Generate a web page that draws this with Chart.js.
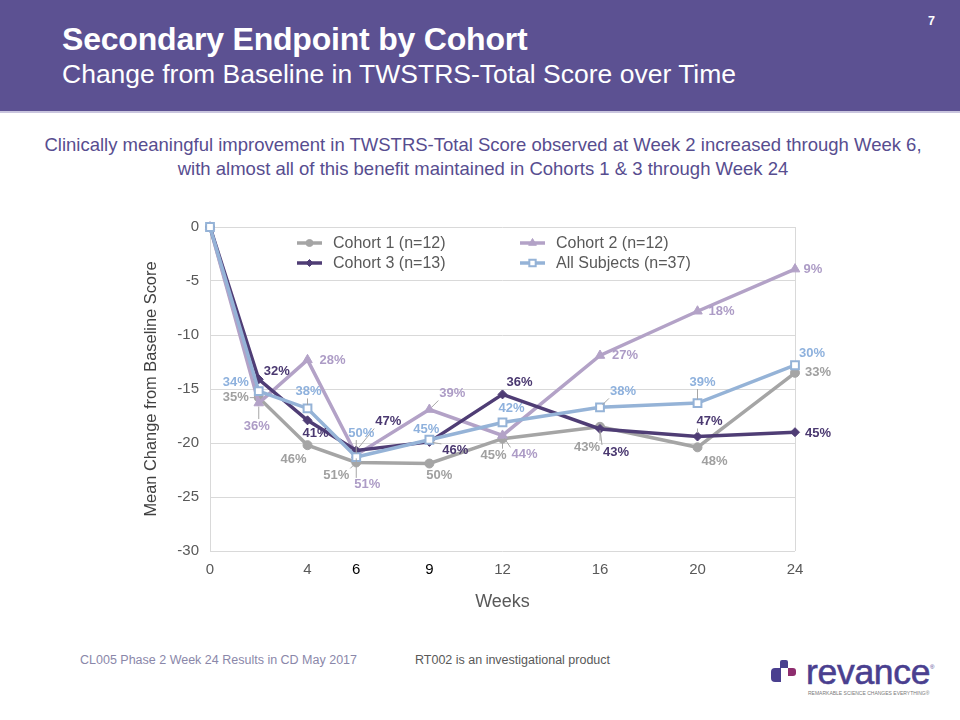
<!DOCTYPE html>
<html>
<head>
<meta charset="utf-8">
<script src="https://cdn.jsdelivr.net/npm/chart.js@4.4.0/dist/chart.umd.min.js"></script>
<style>
  html,body{margin:0;padding:0;}
  body{width:960px;height:720px;position:relative;background:#fff;font-family:"Liberation Sans",Arial,sans-serif;overflow:hidden;}
  #hdr{position:absolute;left:0;top:0;width:960px;height:111px;background:#5c5192;border-bottom:2px solid #c9c5de;}
  #t1{position:absolute;left:62px;top:21px;font-size:32px;font-weight:bold;color:#fff;white-space:nowrap;letter-spacing:-0.2px;}
  #t2{position:absolute;left:62px;top:59px;font-size:26.5px;color:#fff;white-space:nowrap;}
  #pg{position:absolute;left:928px;top:14px;font-size:12.5px;font-weight:bold;color:#fff;}
  #desc{position:absolute;left:0;top:133px;width:966px;text-align:center;font-size:18.5px;line-height:24px;color:#574d8f;}
  #chart{position:absolute;left:0;top:190px;}
  #f1{position:absolute;left:80px;top:653px;font-size:12.5px;color:#8a87a9;white-space:nowrap;}
  #f2{position:absolute;left:415px;top:653px;font-size:12.5px;color:#595959;white-space:nowrap;}
  .lg{position:absolute;}
  #lg1{left:780px;top:660px;width:8px;height:8px;background:#4a3f8f;border-radius:2px 2px 0 0;}
  #lg2{left:771px;top:668px;width:10px;height:14px;background:#4a3f8f;border-radius:4px 0 0 4px;}
  #lg3{left:788px;top:668px;width:8px;height:8px;background:#8e2d6e;border-radius:0 3px 3px 0;}
  #logo{position:absolute;left:806px;top:652px;font-size:35.5px;color:#4a3f8f;letter-spacing:-0.3px;white-space:nowrap;-webkit-text-stroke:0.6px #4a3f8f;}
  #reg{position:absolute;left:930px;top:664px;font-size:6px;color:#4a3f8f;}
  #tag{position:absolute;left:808px;top:690px;font-size:5px;color:#7a7a7a;white-space:nowrap;}
</style>
</head>
<body>
<div id="hdr">
  <div id="t1">Secondary Endpoint by Cohort</div>
  <div id="t2">Change from Baseline in TWSTRS-Total Score over Time</div>
  <div id="pg">7</div>
</div>
<div id="desc">Clinically meaningful improvement in TWSTRS-Total Score observed at Week 2 increased through Week 6,<br>with almost all of this benefit maintained in Cohorts 1 &amp; 3 through Week 24</div>
<canvas id="chart" width="960" height="440"></canvas>
<div id="f1">CL005 Phase 2 Week 24 Results in CD May 2017</div>
<div id="f2">RT002 is an investigational product</div>
<div class="lg" id="lg1"></div><div class="lg" id="lg2"></div><div class="lg" id="lg3"></div>
<div id="logo">revance</div>
<div id="reg">®</div>
<div id="tag">REMARKABLE SCIENCE CHANGES EVERYTHING®</div>
<script>
// ---------------- data ----------------
const weeks = [0, 2, 4, 6, 9, 12, 16, 20, 24];
const xTickValues = [0, 4, 6, 9, 12, 16, 20, 24];
const highlightedTicks = [6, 9];
const seriesNames = ['Cohort 1 (n=12)', 'Cohort 2 (n=12)', 'Cohort 3 (n=13)', 'All Subjects (n=37)'];
const cohort1 = [0, -15.8, -20.2, -21.8, -21.9, -19.6, -18.5, -20.4, -13.5];
const cohort2 = [0, -16.3, -12.3, -21.1, -16.9, -19.3, -11.9, -7.8, -3.9];
const cohort3 = [0, -14.1, -17.9, -20.7, -19.9, -15.5, -18.7, -19.4, -19.0];
const allSubjects = [0, -15.2, -16.8, -21.3, -19.7, -18.1, -16.7, -16.3, -12.8];
const cohort1Pct = ['', '35%', '46%', '51%', '50%', '45%', '43%', '48%', '33%'];
const cohort2Pct = ['', '36%', '28%', '51%', '39%', '44%', '27%', '18%', '9%'];
const cohort3Pct = ['', '32%', '41%', '47%', '46%', '36%', '43%', '47%', '45%'];
const allSubjectsPct = ['', '34%', '38%', '50%', '45%', '42%', '38%', '39%', '30%'];

// ---------------- styling (label offsets in px relative to point, [dx, dy, leader]) ----------------
const labelOffsets = {
  c1: [null, [-23, 0, 1], [-14, 14, 0], [-20, 13, 1], [10, 12, 0], [-9, 17, 1], [-13, 21, 1], [17, 14, 0], [23, 0, 0]],
  c2: [null, [-2, 23, 1], [25, 1, 0], [11, 30, 1], [23, -16, 1], [22, 19, 1], [25, 0, 0], [24, 0, 0], [18, 0, 0]],
  c3: [null, [18, -8, 0], [8, 13, 0], [32, -29, 1], [26, 9, 1], [17, -12, 0], [16, 23, 1], [12, -15, 1], [23, 1, 0]],
  all: [null, [-23, -9, 0], [1, -17, 1], [5, -24, 1], [-3, -10, 0], [9, -14, 0], [23, -16, 1], [5, -21, 1], [17, -12, 0]]
};
const colors = { c1: '#a5a5a5', c2: '#b3a2c7', c3: '#4f3d75', all: '#95b3d7' };
const labelColors = { c1: '#a0a0a0', c2: '#ad9cc6', c3: '#4a3870', all: '#8eb1dd' };
const FONT = '"Liberation Sans", Arial, sans-serif';

function mk(arr) { return arr.map((v, i) => ({ x: weeks[i], y: v })); }

const datasets = [
  { key: 'c1', label: seriesNames[0], data: mk(cohort1), pct: cohort1Pct, order: 4,
    borderColor: colors.c1, backgroundColor: colors.c1, pointStyle: 'circle', pointRadius: 4.5,
    pointBorderColor: colors.c1, pointBackgroundColor: colors.c1, pointBorderWidth: 1 },
  { key: 'c2', label: seriesNames[1], data: mk(cohort2), pct: cohort2Pct, order: 3,
    borderColor: colors.c2, backgroundColor: colors.c2, pointStyle: 'triangle', pointRadius: 5.5,
    pointBorderColor: colors.c2, pointBackgroundColor: colors.c2, pointBorderWidth: 1 },
  { key: 'c3', label: seriesNames[2], data: mk(cohort3), pct: cohort3Pct, order: 2,
    borderColor: colors.c3, backgroundColor: colors.c3, pointStyle: 'rectRot', pointRadius: 4.5,
    pointBorderColor: colors.c3, pointBackgroundColor: colors.c3, pointBorderWidth: 1 },
  { key: 'all', label: seriesNames[3], data: mk(allSubjects), pct: allSubjectsPct, order: 1,
    borderColor: colors.all, backgroundColor: '#ffffff', pointStyle: 'rect', pointRadius: 5.5,
    pointBorderColor: colors.all, pointBackgroundColor: '#ffffff', pointBorderWidth: 2 }
].map(d => Object.assign({ borderWidth: 3.5, tension: 0, clip: false, pointHoverRadius: d.pointRadius }, d));

const pctPlugin = {
  id: 'pctLabels',
  afterDatasetsDraw(chart) {
    const ctx = chart.ctx;
    ctx.save();
    ctx.font = 'bold 13px ' + FONT;
    ctx.textAlign = 'center';
    ctx.textBaseline = 'middle';
    chart.data.datasets.forEach((ds, di) => {
      const meta = chart.getDatasetMeta(di);
      const offs = labelOffsets[ds.key];
      meta.data.forEach((pt, i) => {
        const txt = ds.pct[i];
        if (!txt || !offs[i]) return;
        const o = offs[i];
        const lx = pt.x + o[0], ly = pt.y + o[1];
        if (o[2]) {
          const w = ctx.measureText(txt).width / 2 + 1, h = 7;
          let sx = Math.max(lx - w, Math.min(pt.x, lx + w));
          let sy = Math.max(ly - h, Math.min(pt.y, ly + h));
          const dx = pt.x - sx, dy = pt.y - sy, d = Math.hypot(dx, dy);
          if (d > 6) {
            const ex = pt.x - dx / d * 3.5, ey = pt.y - dy / d * 3.5;
            ctx.strokeStyle = '#a6a6a6';
            ctx.lineWidth = 1;
            ctx.beginPath(); ctx.moveTo(sx, sy); ctx.lineTo(ex, ey); ctx.stroke();
          }
        }
        ctx.fillStyle = labelColors[ds.key];
        ctx.fillText(txt, lx, ly);
      });
    });
    ctx.restore();
  }
};

const legendPlugin = {
  id: 'innerLegend',
  afterDraw(chart) {
    const ctx = chart.ctx, a = chart.chartArea;
    const slots = [[0, 0], [1, 0], [0, 1], [1, 1]]; // [col,row] per dataset
    const colX = [a.left + 87, a.left + 310];
    const rowY = [a.top + 16, a.top + 36];
    ctx.save();
    chart.data.datasets.forEach((ds, di) => {
      const [c, r] = slots[di];
      const x0 = colX[c], y = rowY[r];
      ctx.strokeStyle = ds.borderColor;
      ctx.lineWidth = 3.5;
      ctx.beginPath(); ctx.moveTo(x0, y); ctx.lineTo(x0 + 25, y); ctx.stroke();
      ctx.fillStyle = ds.pointBackgroundColor;
      ctx.strokeStyle = ds.pointBorderColor;
      ctx.lineWidth = ds.pointBorderWidth;
      Chart.helpers.drawPoint(ctx, { pointStyle: ds.pointStyle, radius: ds.pointRadius - 1, borderWidth: ds.pointBorderWidth, rotation: 0 }, x0 + 12.5, y);
      ctx.fillStyle = '#595959';
      ctx.font = '16px ' + FONT;
      ctx.textAlign = 'left'; ctx.textBaseline = 'middle';
      ctx.fillText(ds.label, x0 + 36, y + 1);
    });
    ctx.restore();
  }
};

new Chart(document.getElementById('chart'), {
  type: 'line',
  data: { datasets },
  plugins: [pctPlugin, legendPlugin],
  options: {
    responsive: false,
    animation: false,
    devicePixelRatio: 1,
    layout: { padding: { left: 0, right: 165, top: 37, bottom: 0 } },
    plugins: { legend: { display: false }, tooltip: { enabled: false } },
    scales: {
      x: {
        type: 'linear', min: 0, max: 24,
        afterBuildTicks: s => { s.ticks = xTickValues.map(v => ({ value: v })); },
        afterFit: s => { s.height = 79; },
        grid: { drawTicks: false, color: c => (c.tick && (c.tick.value === 0 || c.tick.value === 24)) ? '#d9d9d9' : 'rgba(0,0,0,0)', lineWidth: 1 },
        border: { display: false },
        ticks: { padding: 10, font: { size: 15, family: FONT },
          color: c => highlightedTicks.includes(c.tick.value) ? '#000000' : '#595959',
          callback: v => String(v), autoSkip: false, maxRotation: 0 },
        title: { display: true, text: 'Weeks', color: '#595959', font: { size: 18, family: FONT }, padding: { top: 17, bottom: 17 } }
      },
      y: {
        min: -30, max: 0,
        afterFit: s => { s.width = 210; },
        grid: { drawTicks: false, color: '#d9d9d9', lineWidth: 1 },
        border: { display: false },
        ticks: { stepSize: 5, padding: 11, color: '#595959', font: { size: 15, family: FONT } },
        title: { display: true, text: 'Mean Change from Baseline Score', color: '#404040', font: { size: 16.4, family: FONT }, padding: { top: 142, bottom: 142 } }
      }
    }
  }
});
</script>
</body>
</html>
